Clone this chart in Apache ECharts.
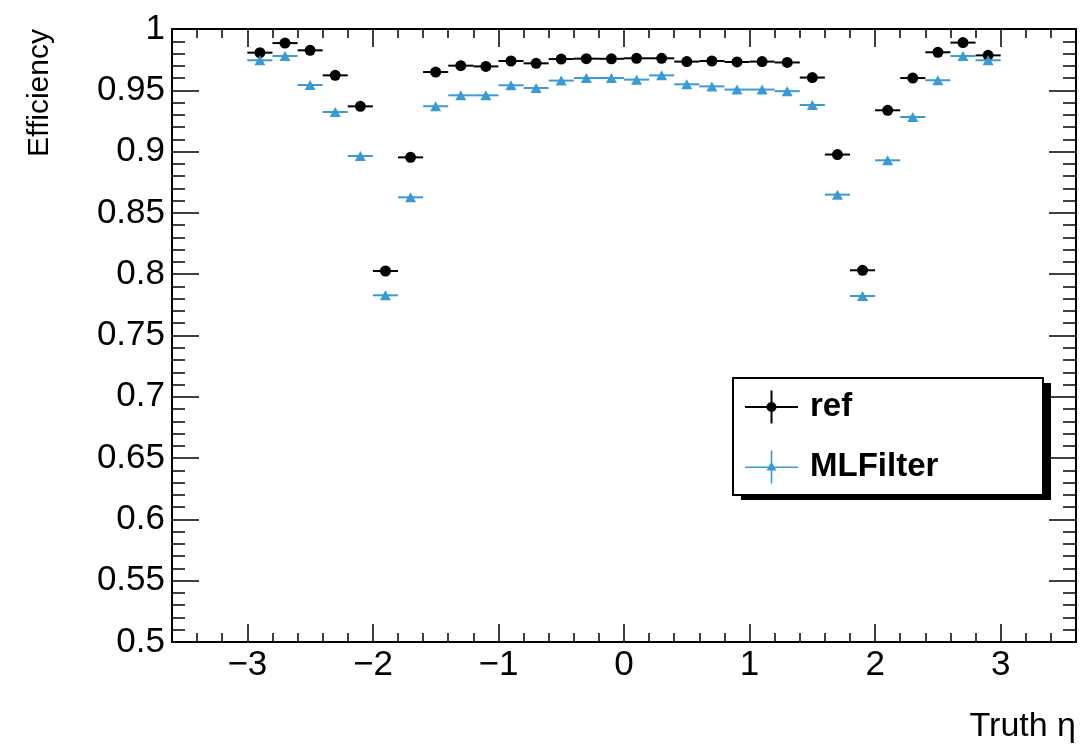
<!DOCTYPE html>
<html>
<head>
<meta charset="utf-8">
<script src="https://cdn.jsdelivr.net/npm/echarts@6/dist/echarts.min.js"></script>
<style>
html,body{margin:0;padding:0;background:#fff;}
#chart{width:1080px;height:744px;}
</style>
</head>
<body>
<div id="chart"></div>
<script>
// ---- data ----
const etaCenters = [-2.9,-2.7,-2.5,-2.3,-2.1,-1.9,-1.7,-1.5,-1.3,-1.1,-0.9,-0.7,-0.5,-0.3,-0.1,
                    0.1,0.3,0.5,0.7,0.9,1.1,1.3,1.5,1.7,1.9,2.1,2.3,2.5,2.7,2.9];
const binHalfWidth = 0.1;
const refEff = [0.9807,0.9885,0.9826,0.9622,0.9369,0.8026,0.8953,0.9649,0.9701,0.9695,0.9739,0.9720,0.9755,0.9758,0.9757,
                0.9761,0.9761,0.9734,0.9739,0.9731,0.9734,0.9727,0.9604,0.8976,0.8032,0.9337,0.9600,0.9810,0.9889,0.9785];
const mlEff  = [0.9745,0.9780,0.9543,0.9323,0.8964,0.7828,0.8627,0.9370,0.9459,0.9459,0.9541,0.9519,0.9579,0.9600,0.9600,
                0.9587,0.9622,0.9549,0.9532,0.9506,0.9506,0.9493,0.9380,0.8649,0.7822,0.8929,0.9282,0.9582,0.9780,0.9745];
const xMajorTicks = [-3,-2,-1,0,1,2,3];
const seriesNames = ['ref','MLFilter'];
const xTitle = 'Truth \u03b7';
const yTitle = 'Efficiency';

// ---- styles ----
const FONT = 'Liberation Sans';
const BLACK = '#000000';
const BLUE = '#3a9ad3';

const refData = etaCenters.map((x,i)=>[x, refEff[i]]);
const mlData  = etaCenters.map((x,i)=>[x, mlEff[i]]);

function errBar(color){
  return function(params, api){
    const x = api.value(0), y = api.value(1);
    const p1 = api.coord([x - binHalfWidth, y]);
    const p2 = api.coord([x + binHalfWidth, y]);
    return {type:'line', shape:{x1:p1[0], y1:p1[1], x2:p2[0], y2:p2[1]},
            style:{stroke:color, lineWidth:2}};
  };
}

const tickStyle = {color:BLACK, width:1.5};
const baseX = {type:'value', min:-3.6, max:3.6, interval:0.2, gridIndex:0,
               splitLine:{show:false}, axisPointer:{show:false}};
const baseY = {type:'value', min:0.5, max:1, interval:0.05, gridIndex:0,
               splitLine:{show:false}, minorSplitLine:{show:false}};

const refIcon = 'path://M0,15.5h53v2h-53z M25.5,0h2v33h-2z M31.5,16.5a5,5 0 1,1 -10,0a5,5 0 1,1 10,0z';
const mlIcon  = 'path://M0,16h53v1.6h-53z M25.7,0h1.6v33h-1.6z M26.5,11l5,9h-10z';

const chart = echarts.init(document.getElementById('chart'), null, {renderer:'canvas'});
chart.setOption({
  animation:false,
  backgroundColor:'#ffffff',
  grid:{left:172, top:29, right:4, bottom:102},
  xAxis:[
    Object.assign({}, baseX, {position:'bottom',
      axisLine:{show:true, onZero:false, lineStyle:{color:BLACK, width:2}},
      axisTick:{show:true, inside:true, length:9, lineStyle:tickStyle},
      axisLabel:{show:true, customValues:xMajorTicks, margin:6, fontSize:35, fontFamily:FONT, color:BLACK,
        formatter:v => (v < 0 ? '\u2212' + Math.abs(v) : String(v))}}),
    Object.assign({}, baseX, {position:'bottom',
      axisLine:{show:false, onZero:false},
      axisTick:{show:true, inside:true, length:18, customValues:xMajorTicks, lineStyle:tickStyle},
      axisLabel:{show:false}}),
    Object.assign({}, baseX, {position:'top',
      axisLine:{show:true, onZero:false, lineStyle:{color:BLACK, width:2}},
      axisTick:{show:true, inside:true, length:9, lineStyle:tickStyle},
      axisLabel:{show:false}}),
    Object.assign({}, baseX, {position:'top',
      axisLine:{show:false, onZero:false},
      axisTick:{show:true, inside:true, length:18, customValues:xMajorTicks, lineStyle:tickStyle},
      axisLabel:{show:false}})
  ],
  yAxis:[
    Object.assign({}, baseY, {position:'left',
      axisLine:{show:true, onZero:false, lineStyle:{color:BLACK, width:2}},
      axisTick:{show:true, inside:true, length:27, lineStyle:tickStyle},
      minorTick:{show:true, splitNumber:5, length:13, lineStyle:tickStyle},
      axisLabel:{show:true, margin:7, fontSize:35, fontFamily:FONT, color:BLACK,
        formatter:v => String(+v.toFixed(2))}}),
    Object.assign({}, baseY, {position:'right',
      axisLine:{show:true, onZero:false, lineStyle:{color:BLACK, width:2}},
      axisTick:{show:true, inside:true, length:27, lineStyle:tickStyle},
      minorTick:{show:true, splitNumber:5, length:13, lineStyle:tickStyle},
      axisLabel:{show:false}})
  ],
  legend:{
    show:true, orient:'vertical', left:733, top:378,
    selectedMode:false,
    padding:[11, 20, 10, 12],
    itemWidth:53, itemHeight:33, itemGap:24,
    textStyle:{fontFamily:FONT, fontSize:33, fontWeight:'bold', color:BLACK, lineHeight:36, padding:[0,0,0,7]},
    data:[{name:seriesNames[0], icon:refIcon}, {name:seriesNames[1], icon:mlIcon}],
    z:10
  },
  series:[
    {name:seriesNames[0], type:'custom', xAxisIndex:0, yAxisIndex:0, data:refData,
     renderItem:errBar(BLACK), itemStyle:{color:BLACK}, z:2, silent:true},
    {name:seriesNames[0], type:'scatter', xAxisIndex:0, yAxisIndex:0, data:refData,
     symbol:'circle', symbolSize:11, itemStyle:{color:BLACK, opacity:1}, z:3, silent:true},
    {name:seriesNames[1], type:'custom', xAxisIndex:0, yAxisIndex:0, data:mlData,
     renderItem:errBar(BLUE), itemStyle:{color:BLUE}, z:4, silent:true},
    {name:seriesNames[1], type:'scatter', xAxisIndex:0, yAxisIndex:0, data:mlData,
     symbol:'triangle', symbolSize:[11,10], itemStyle:{color:BLUE, opacity:1}, z:5, silent:true}
  ],
  graphic:[
    {type:'rect', z:6, shape:{x:741, y:383, width:310, height:117}, style:{fill:BLACK}, silent:true},
    {type:'rect', z:7, shape:{x:733, y:378, width:310, height:117}, style:{fill:'#ffffff', stroke:BLACK, lineWidth:2}, silent:true},
    {type:'text', x:40, y:93, rotation:Math.PI/2,
     style:{text:yTitle, fontFamily:FONT, fontSize:30, fill:BLACK, textAlign:'center', textVerticalAlign:'middle'}},
    {type:'text', x:1076, y:727,
     style:{text:xTitle, fontFamily:FONT, fontSize:34, fill:BLACK, textAlign:'right', textVerticalAlign:'middle'}}
  ]
});
</script>
</body>
</html>
